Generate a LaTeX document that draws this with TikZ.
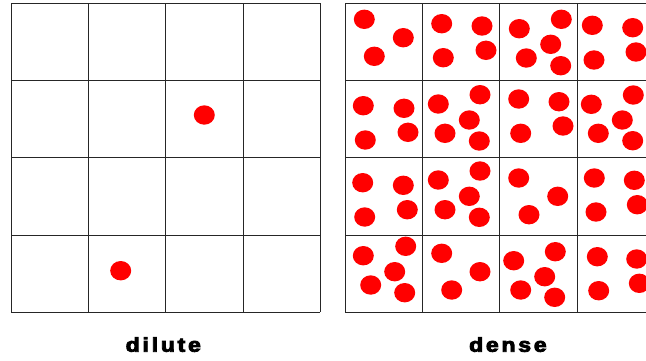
\documentclass[tikz,border=0pt]{standalone}
\usepackage{fontspec}
\newfontfamily\labelfont[FakeBold=4,LetterSpace=12]{Liberation Sans Bold}
\usepackage{tikz}

\begin{document}
\begin{tikzpicture}[
  x=1pt, y=-1pt,
  cell/.style={draw=black!85, line width=0.8pt},
  particle/.style={fill=red},
  caption/.style={anchor=base, inner sep=0pt, xscale=1.15, font=\fontsize{20}{22}\labelfont}
]
\useasboundingbox (0,0) rectangle (646,360);
\clip (0,0) rectangle (646,360);

% dilute box
\foreach \i in {0,...,4} {
  \draw[cell] (11.3+77.2*\i,3.3) -- (11.3+77.2*\i,312.3);
  \draw[cell] (11.3,3.3+77.2*\i) -- (320.1,3.3+77.2*\i);
}
\fill[particle] (204.3,115) ellipse (10.5 and 9.7);
\fill[particle] (120.7,270.7) ellipse (10.5 and 9.7);

% dense box (runs past the right edge)
\foreach \i in {0,...,4} {
  \draw[cell] (345.4+77.2*\i,3.3) -- (345.4+77.2*\i,312.3);
  \draw[cell] (345.4,3.3+77.2*\i) -- (654.2,3.3+77.2*\i);
}
\foreach \p in {
  (364.3,19.3), (403.3,37.7), (374.3,56.3),
  (441.7,23.7), (482,26), (486,50.3), (443.3,57.7),
  (519.3,28.7), (561.3,19.3), (550.7,44.3), (526.3,58), (560.7,65.7),
  (592.3,25.3), (632.7,27.7), (636,52), (594,60),
  (363.3,105.7), (404,108.3), (408,132.3), (365.3,140),
  (438.3,104), (480,94.7), (469.3,120), (445,133.3), (479.3,141),
  (518.7,99), (559,101.7), (563,126), (520.7,133.3),
  (591.3,104.3), (633.3,95), (622.3,120), (598.3,133.3), (632.7,140.7),
  (362.7,182.7), (403.3,185.3), (407.3,209.7), (364.7,217),
  (438.3,180), (480,171), (469.3,196.3), (445,209.7), (479.3,217.3),
  (518.7,178), (557.7,196.3), (529,214.7),
  (594.3,178), (634.3,180.3), (637.3,204.7), (596,212),
  (363.3,255.7), (405.7,246.3), (394.7,271.7), (370.7,285), (404.7,292.7),
  (441.7,253.3), (480,271.7), (451.7,290),
  (513.7,260.7), (555.3,251.7), (544.7,276.7), (520.7,290), (554.7,297.3),
  (597.3,256.7), (636.7,259), (598.7,290.7), (639.3,283.3)}
  \fill[particle] \p ellipse (10.5 and 9.7);

% labels
\node[caption] (dilute) at (163.3,351.7) {dilute};
\node[caption] (dense)  at (507.9,351.7) {dense};

\end{tikzpicture}
\end{document}
